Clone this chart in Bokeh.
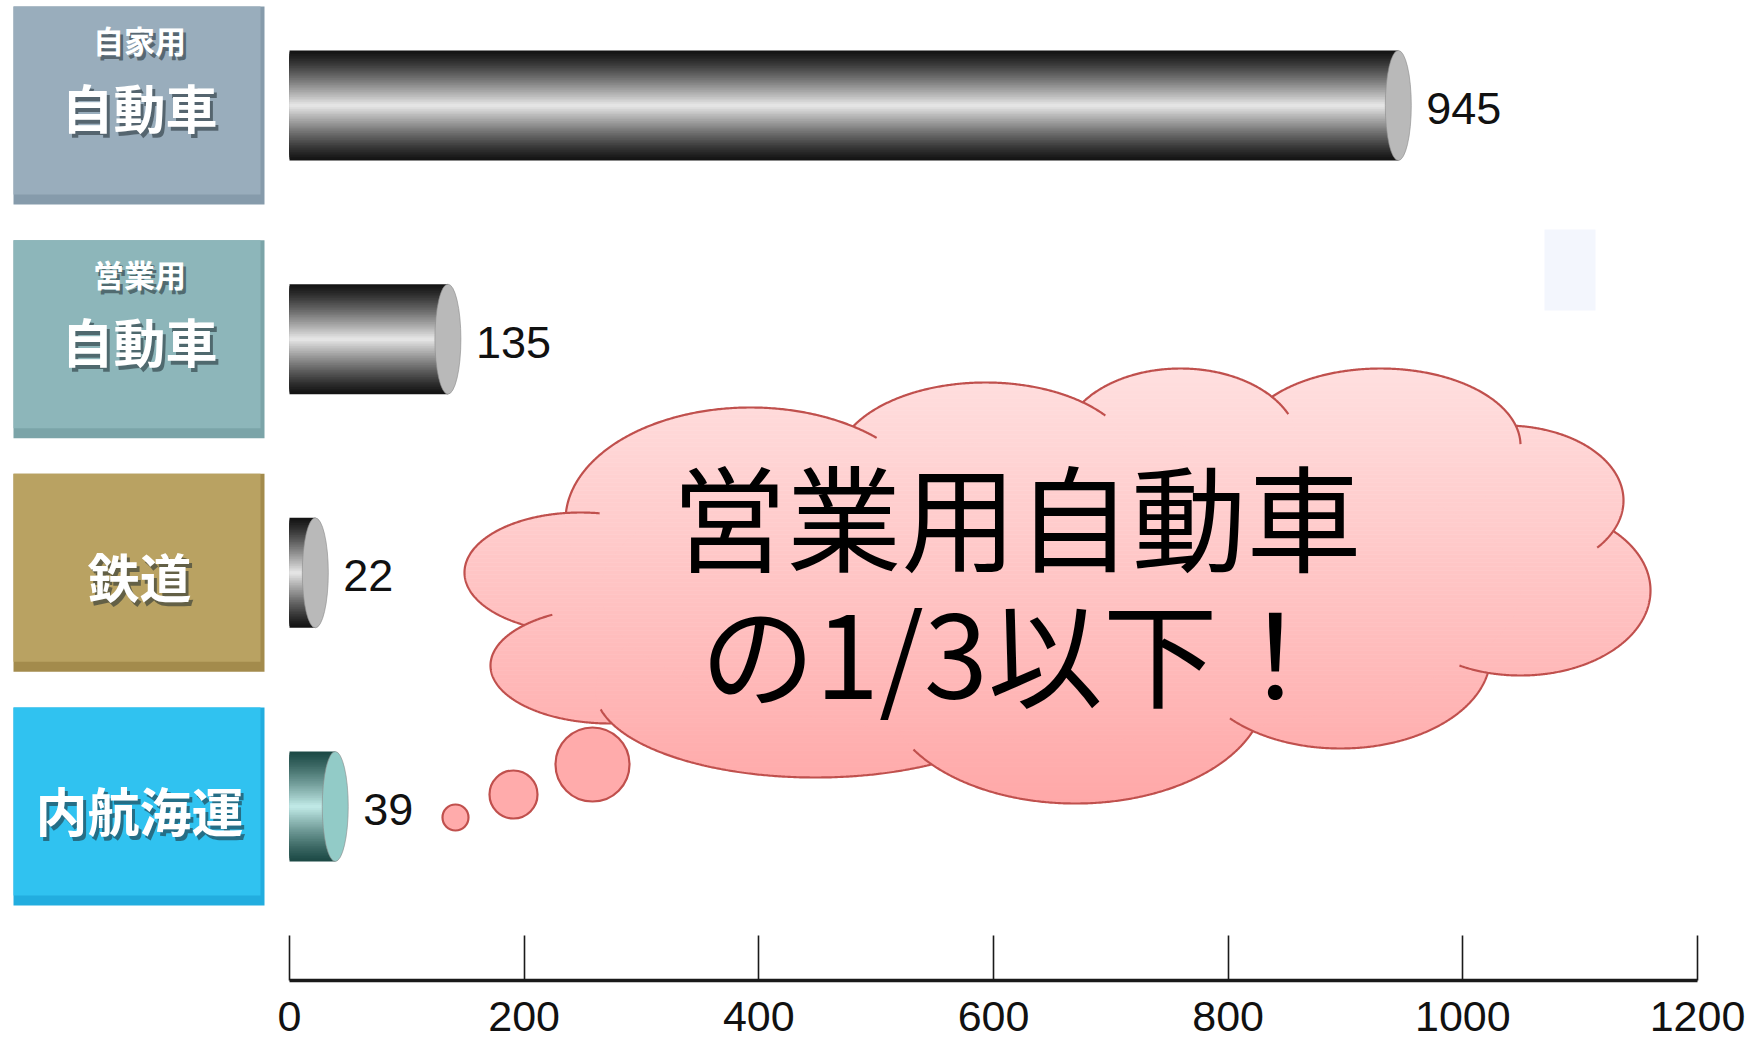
import numpy as np
from bokeh.plotting import figure
from bokeh.models import Range1d, LinearAxis, FixedTicker, ColumnDataSource
from bokeh.core.properties import value
from bokeh.embed import file_html
from bokeh.resources import INLINE

# ---------------- data ----------------
categories = ["自家用自動車", "営業用自動車", "鉄道", "内航海運"]
label_small = ["自家用", "営業用", "", ""]
label_main = ["自動車", "自動車", "鉄道", "内航海運"]
values = [945, 135, 22, 39]
tick_values = [0, 200, 400, 600, 800, 1000, 1200]
callout_lines = ["営業用自動車", "の1/3以下！"]

# ---------------- layout helpers ----------------
W, H = 1751, 1054
FRAME_BOTTOM = 980
X0_PX, X1200_PX = 289, 1697
SX = (X1200_PX - X0_PX) / 1200.0
TOP_CAT_PX, BOT_CAT_PX = 105, 806
SY = (BOT_CAT_PX - TOP_CAT_PX) / 3.0
Y_START = -(FRAME_BOTTOM - BOT_CAT_PX) / SY
NUM_FONT = "Liberation Sans"


def px_x(px):
    return (np.asarray(px, dtype=float) - X0_PX) / SX


def px_y(py):
    return Y_START + (FRAME_BOTTOM - np.asarray(py, dtype=float)) / SY


n = len(categories)
cat_y = [n - 1 - i for i in range(n)]

p = figure(width=W, height=H, output_backend="svg", toolbar_location=None,
           x_range=Range1d(float(px_x(0)), float(px_x(W))),
           y_range=Range1d(Y_START, Y_START + FRAME_BOTTOM / SY),
           x_axis_type=None, y_axis_type=None,
           min_border_left=0, min_border_right=0, min_border_top=0,
           min_border_bottom=H - FRAME_BOTTOM)
p.outline_line_color = None
p.grid.visible = False
p.background_fill_color = "white"
p.border_fill_color = "white"

# ---------------- x axis ----------------
ax = LinearAxis(ticker=FixedTicker(ticks=tick_values), bounds=(0, 1200))
ax.axis_line_width = 3.5
ax.axis_line_color = "#1a1a1a"
ax.major_tick_line_color = "#1a1a1a"
ax.major_tick_line_width = 1.6
ax.major_tick_in = 45
ax.major_tick_out = 0
ax.minor_tick_line_color = None
ax.major_label_text_font = NUM_FONT
ax.major_label_text_font_size = "43px"
ax.major_label_text_color = "#111111"
ax.major_label_standoff = 21
p.add_layout(ax, "below")

# ---------------- thought cloud (fill + vertical gradient) ----------------
CL = "#c0504d"
BASE = "#ffa8a8"
lobes = [  # (cx, cy, rx, ry) in pixels
    (580, 572, 116, 60),
    (610, 665, 120, 58),
    (815, 690, 220, 87),
    (1075, 690, 190, 113),
    (1340, 655, 150, 93),
    (1520, 590, 130, 85),
    (1505, 500, 118, 75),
    (1380, 445, 140, 77),
    (1180, 445, 118, 77),
    (985, 465, 150, 83),
    (750, 520, 185, 113),
]
body = (1060, 590, 460, 150)
allell = lobes + [body]
p.ellipse(x=px_x([c[0] for c in allell]), y=px_y([c[1] for c in allell]),
          width=[2 * c[2] / SX for c in allell], height=[2 * c[3] / SY for c in allell],
          fill_color=BASE, line_color=None)

CTOP, CBOT = 366, 806
band_top = np.arange(CTOP, CBOT, 4.0)
alphas = 0.64 * (CBOT - (band_top + 2)) / (CBOT - CTOP)
p.quad(left=float(px_x(440)), right=float(px_x(1665)),
       top=px_y(band_top), bottom=px_y(band_top + 4.3),
       fill_color="white", fill_alpha=alphas, line_color=None)


def inside(px_, py_, e, m=0.0):
    cx, cy, rx, ry = e
    return ((px_ - cx) / (rx - m)) ** 2 + ((py_ - cy) / (ry - m)) ** 2 < 1.0


def runs(mask):
    out, cur = [], []
    N = len(mask)
    if mask.all():
        return [list(range(N))]
    start = int(np.argmin(mask))  # a False index
    for s in range(1, N + 1):
        k = (start + s) % N
        if mask[k]:
            cur.append(k)
        elif cur:
            out.append(cur)
            cur = []
    if cur:
        out.append(cur)
    return out


# outline: outer boundary of the union, each arc running on a little past one junction
xs_out, ys_out = [], []
NT = 720
th = np.linspace(0, 2 * np.pi, NT, endpoint=False)
for i, e in enumerate(lobes):
    ex = e[0] + e[2] * np.cos(th)
    ey = e[1] + e[3] * np.sin(th)
    keep = np.ones(NT, dtype=bool)
    for j, f in enumerate(allell):
        if j != i:
            keep &= ~inside(ex, ey, f, 0.5)
    r_avg = 0.5 * (e[2] + e[3])
    m = int(26 / (r_avg * 2 * np.pi / NT))
    for r in runs(keep):
        r = r + [(r[-1] + s) % NT for s in range(1, m + 1)]
        xs_out.append(list(px_x(ex[r])))
        ys_out.append(list(px_y(ey[r])))
p.multi_line(xs=xs_out, ys=ys_out, line_color=CL, line_width=2.2)

bubbles = [(455, 817, 13), (513, 794, 24), (592, 764, 37)]
p.ellipse(x=px_x([b[0] for b in bubbles]), y=px_y([b[1] for b in bubbles]),
          width=[2 * b[2] / SX for b in bubbles], height=[2 * b[2] / SY for b in bubbles],
          fill_color="#ffabab", line_color=CL, line_width=2.2)

p.text(x=px_x([1016, 1016]), y=px_y([512, 648]), text=callout_lines,
       text_font=value("Noto Sans CJK JP"), text_font_size="115px",
       text_color="black", text_align="center", text_baseline="middle")

# ---------------- category boxes ----------------
box_colors = ["#99adbc", "#8db6ba", "#b9a262", "#30c2f0"]
box_dark = ["#869bab", "#7ba4a8", "#a38b4c", "#22addf"]
BOX_L, BOX_R = float(px_x(13)), float(px_x(264))
BOX_HALF = 99 / SY
p.quad(left=BOX_L, right=BOX_R,
       bottom=[y - BOX_HALF for y in cat_y], top=[y + BOX_HALF for y in cat_y],
       fill_color=box_dark, line_color=None)
p.quad(left=BOX_L, right=BOX_R - 4 / SX,
       bottom=[y - BOX_HALF + 10 / SY for y in cat_y], top=[y + BOX_HALF for y in cat_y],
       fill_color=box_colors, line_color=None)

jp = value("Noto Sans CJK JP")
box_cx = float(px_x(139))
small_y, small_t, main_y, main_t = [], [], [], []
for i in range(n):
    cy = cat_y[i]
    if label_small[i]:
        small_y.append(cy + 66 / SY)
        small_t.append(label_small[i])
        main_y.append(cy - 1 / SY)
    else:
        main_y.append(cy - 3 / SY)
    main_t.append(label_main[i])
src_small = ColumnDataSource(dict(x=[box_cx] * len(small_y), y=small_y, t=small_t))
src_main = ColumnDataSource(dict(x=[box_cx] * n, y=main_y, t=main_t))
for dx, dy, col, alpha in [(3, 4, "#1d2a30", 0.55), (0, 0, "white", 1.0)]:
    p.text(x="x", y="y", text="t", source=src_small, text_font=jp,
           text_font_style="bold", text_font_size="31px", text_color=col,
           text_alpha=alpha, text_align="center", text_baseline="middle",
           x_offset=dx, y_offset=dy)
    p.text(x="x", y="y", text="t", source=src_main, text_font=jp,
           text_font_style="bold", text_font_size="52px", text_color=col,
           text_alpha=alpha, text_align="center", text_baseline="middle",
           x_offset=dx, y_offset=dy)

# faint rectangle on the right
p.quad(left=float(px_x(1544)), right=float(px_x(1595)), top=float(px_y(229)),
       bottom=float(px_y(310)), fill_color="#f3f6fd", line_color=None)

# ---------------- cylinder bars ----------------
BAR_H = 110 / SY


def hexmix(c1, c2, t):
    a = [int(c1[i:i + 2], 16) for i in (1, 3, 5)]
    b = [int(c2[i:i + 2], 16) for i in (1, 3, 5)]
    return "#%02x%02x%02x" % tuple(int(round(a[k] + (b[k] - a[k]) * t)) for k in range(3))


dark = ["#141414", "#141414", "#141414", "#1d4a46"]
light = ["#e4e4e4", "#e4e4e4", "#e4e4e4", "#bfe8e5"]
cap = ["#b9b9b9", "#b9b9b9", "#b9b9b9", "#92cbc7"]
NL = 32
for k in range(NL):
    f = 1.0 - k / NL
    t = (k / (NL - 1)) ** 1.2
    cols = [hexmix(dark[i], light[i], t) for i in range(n)]
    p.hbar(y=cat_y, left=0, right=values, height=BAR_H * f,
           fill_color=cols, line_color=None)
p.ellipse(x=values, y=cat_y, width=26 / SX, height=BAR_H,
          fill_color=cap, line_color="#8a8a8a", line_width=1, line_alpha=0.6)

p.text(x=values, y=cat_y, text=[str(v) for v in values],
       text_font=value(NUM_FONT), text_font_size="45px", text_color="#111111",
       text_align="left", text_baseline="middle", x_offset=28, y_offset=3)

open("out.html", "w").write(file_html(p, INLINE))
